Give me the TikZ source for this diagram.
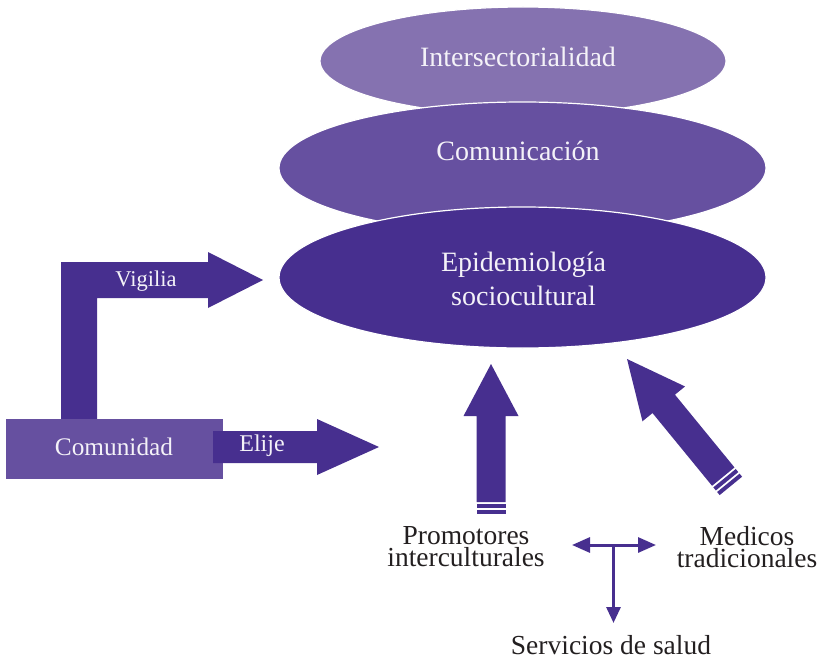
\documentclass[tikz,border=0pt]{standalone}
\usepackage{fontspec}
\setmainfont{Liberation Serif}
\usetikzlibrary{arrows.meta,shapes.geometric}
\definecolor{lightp}{HTML}{8572B0}
\definecolor{midp}{HTML}{6650A0}
\definecolor{darkp}{HTML}{472F8F}
\definecolor{paletext}{HTML}{F4F2F8}
\definecolor{labtext}{HTML}{231F20}
\tikzset{
  ellbox/.style={ellipse, draw=white, line width=1.2pt, inner sep=0pt},
  elltext/.style={text=paletext, font=\fontsize{28}{34}\selectfont, align=center, inner sep=0pt},
  arrtext/.style={text=paletext, font=\fontsize{24}{28}\selectfont, inner sep=0pt},
  labtxt/.style={text=labtext, font=\fontsize{27.5}{22}\selectfont, align=center, inner sep=0pt},
  bigarrow/.style={fill=darkp},
  thinarrow/.style={draw=darkp, line width=3pt, {Triangle[length=18pt,width=15pt]}-{Triangle[length=18pt,width=15pt]}},
  downarrow/.style={draw=darkp, line width=3pt, -{Triangle[length=16pt,width=14pt]}}
}
\begin{document}
\begin{tikzpicture}[x=1pt,y=-1pt]
\useasboundingbox (0,0) rectangle (821,660);
% ellipses
\node[ellbox, fill=lightp, minimum width=406pt, minimum height=108pt] (inter) at (523,61) {};
\node[ellbox, fill=midp, minimum width=487pt, minimum height=132pt] (comu) at (522.5,168) {};
\node[ellbox, fill=darkp, minimum width=487pt, minimum height=141pt] (epi) at (522.5,277.5) {};
\node[elltext] (tinter) at (518,57) {Intersectorialidad};
\node[elltext] (tcomu) at (518,151) {Comunicación};
\node[elltext] (tepi) at (523.5,279) {Epidemiología\\sociocultural};
% Vigilia L-arrow
\fill[bigarrow] (61,419) -- (61,262) -- (208,262) -- (208,252) -- (263,280) -- (208,308) -- (208,298) -- (97,298) -- (97,419) -- cycle;
\node[arrtext, font=\fontsize{22.5}{26}\selectfont] (tvig) at (146,281) {Vigilia};
% Comunidad box
\node[fill=midp, minimum width=217pt, minimum height=60pt, inner sep=0pt] (comunidad) at (114.5,449) {};
\node[arrtext, font=\fontsize{25.3}{28}\selectfont] (tcomunidad) at (114,447) {Comunidad};
% Elije arrow
\fill[bigarrow] (213,431) -- (317,431) -- (317,419) -- (379,447) -- (317,475) -- (317,463) -- (213,463) -- cycle;
\node[arrtext] (telije) at (262,446) {Elije};
% vertical arrow
\begin{scope}[shift={(491,364)}]
\fill[bigarrow] (0,0) -- (27.5,52) -- (14.5,52) -- (14.5,138) -- (-14.5,138) -- (-14.5,52) -- (-27.5,52) -- cycle;
\fill[bigarrow] (-14.5,140) rectangle (14.5,144);
\fill[bigarrow] (-14.5,146) rectangle (14.5,150);
\end{scope}
% diagonal arrow
\begin{scope}[shift={(627,359)}, rotate=39.3]
\fill[bigarrow] (0,0) -- (27.5,58) -- (14.5,58) -- (14.5,152) -- (-14.5,152) -- (-14.5,58) -- (-27.5,58) -- cycle;
\fill[bigarrow] (-14.5,154) rectangle (14.5,158);
\fill[bigarrow] (-14.5,160) rectangle (14.5,164);
\end{scope}
% bottom labels
\node[labtxt] (promo) at (466,547) {Promotores\\interculturales};
\node[labtxt] (medi) at (747,547) {Medicos\\tradicionales};
\node[labtxt] (serv) at (611,645) {Servicios de salud};
% T connector
\coordinate (tl) at (572,545);
\coordinate (tr) at (656,545);
\coordinate (tm) at (613.5,545);
\coordinate (tb) at (613.5,623);
\draw[thinarrow] (tl) -- (tr);
\draw[downarrow] (tm) -- (tb);
\end{tikzpicture}
\end{document}
